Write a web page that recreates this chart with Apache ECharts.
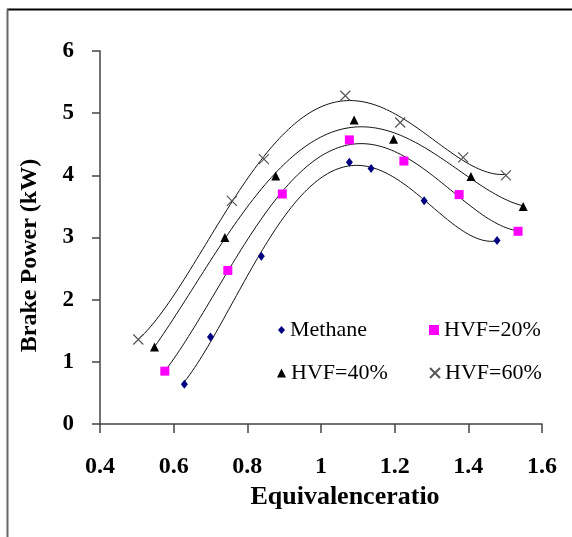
<!DOCTYPE html>
<html>
<head>
<meta charset="utf-8">
<script src="https://cdn.jsdelivr.net/npm/echarts@6/dist/echarts.min.js"></script>
<style>
html,body{margin:0;padding:0;background:#fff;}
#chart{width:572px;height:537px;}
</style>
</head>
<body>
<div id="chart"></div>
<script>
// Data
const seriesNames = ['Methane', 'HVF=20%', 'HVF=40%', 'HVF=60%'];
const phiMethane = [0.629, 0.700, 0.838, 1.077, 1.136, 1.280, 1.478];
const bpMethane  = [0.64, 1.40, 2.70, 4.21, 4.11, 3.59, 2.95];
const phiHVF20 = [0.576, 0.747, 0.895, 1.077, 1.225, 1.375, 1.535];
const bpHVF20  = [0.85, 2.47, 3.70, 4.57, 4.23, 3.69, 3.10];
const phiHVF40 = [0.548, 0.739, 0.877, 1.090, 1.197, 1.407, 1.549];
const bpHVF40  = [1.24, 3.00, 3.99, 4.89, 4.58, 3.98, 3.50];
const phiHVF60 = [0.504, 0.758, 0.845, 1.066, 1.215, 1.386, 1.502];
const bpHVF60  = [1.36, 3.59, 4.26, 5.28, 4.85, 4.29, 4.00];
const xTickLabels = ['0.4', '0.6', '0.8', '1', '1.2', '1.4', '1.6'];
const yTickLabels = ['0', '1', '2', '3', '4', '5', '6'];
const trendOrder = 4; // polynomial trendline order

// least-squares polynomial regression (trendline) of each series
function polyfit(xs, ys, deg) {
  const n = deg + 1;
  const A = [], b = [];
  for (let i = 0; i < n; i++) {
    A.push(new Array(n).fill(0));
    b.push(0);
  }
  for (let k = 0; k < xs.length; k++) {
    for (let i = 0; i < n; i++) {
      b[i] += ys[k] * Math.pow(xs[k], i);
      for (let j = 0; j < n; j++) A[i][j] += Math.pow(xs[k], i + j);
    }
  }
  for (let c = 0; c < n; c++) {
    let p = c;
    for (let r = c + 1; r < n; r++) if (Math.abs(A[r][c]) > Math.abs(A[p][c])) p = r;
    [A[c], A[p]] = [A[p], A[c]];
    [b[c], b[p]] = [b[p], b[c]];
    for (let r = c + 1; r < n; r++) {
      const f = A[r][c] / A[c][c];
      for (let j = c; j < n; j++) A[r][j] -= f * A[c][j];
      b[r] -= f * b[c];
    }
  }
  const coef = new Array(n).fill(0);
  for (let r = n - 1; r >= 0; r--) {
    let s = b[r];
    for (let j = r + 1; j < n; j++) s -= A[r][j] * coef[j];
    coef[r] = s / A[r][r];
  }
  return coef;
}
function trend(xs, ys) {
  const c = polyfit(xs, ys, trendOrder);
  const x0 = Math.min(...xs), x1 = Math.max(...xs);
  const pts = [];
  const N = 120;
  for (let i = 0; i <= N; i++) {
    const x = x0 + (x1 - x0) * i / N;
    let y = 0;
    for (let k = c.length - 1; k >= 0; k--) y = y * x + c[k];
    pts.push([x, y]);
  }
  return pts;
}
const zip = (a, b) => a.map((v, i) => [v, b[i]]);

const serif = '"Times New Roman", "Liberation Serif", serif';
const xPath = 'path://M0,0L10,10M10,0L0,10';

const groups = [
  { name: seriesNames[0], xs: phiMethane, ys: bpMethane, symbol: 'diamond', size: [7, 9], color: '#000080', border: 0 },
  { name: seriesNames[1], xs: phiHVF20, ys: bpHVF20, symbol: 'rect', size: 9, color: '#ff00ff', border: 0 },
  { name: seriesNames[2], xs: phiHVF40, ys: bpHVF40, symbol: 'triangle', size: 9, color: '#000000', border: 0 },
  { name: seriesNames[3], xs: phiHVF60, ys: bpHVF60, symbol: xPath, size: 10, color: '#555555', border: 1 }
];

const series = [];
groups.forEach(g => {
  series.push({
    type: 'line',
    data: trend(g.xs, g.ys),
    showSymbol: false,
    silent: true,
    lineStyle: { color: '#111', width: 1 },
    z: 2
  });
});
groups.forEach(g => {
  series.push({
    name: g.name,
    type: 'scatter',
    data: zip(g.xs, g.ys),
    symbol: g.symbol,
    symbolSize: g.size,
    itemStyle: g.border ? { color: g.color, borderColor: g.color, borderWidth: 1.2, opacity: 1 }
                        : { color: g.color, opacity: 1 },
    z: 3
  });
});

function legendFor(name, icon, left, top, w, h) {
  return {
    data: [{ name: name, icon: icon }],
    left: left, top: top,
    itemWidth: w, itemHeight: h,
    itemGap: 0,
    padding: 0,
    selectedMode: false,
    textStyle: { fontFamily: serif, fontSize: 22, color: '#000', padding: [0, 0, 0, 0] }
  };
}

const option = {
  animation: false,
  backgroundColor: '#fff',
  grid: { left: 100, right: 30, top: 51, bottom: 113 },
  xAxis: {
    type: 'value', min: 0.4, max: 1.6, interval: 0.2,
    name: 'Equivalenceratio', nameLocation: 'middle', nameGap: 60,
    nameTextStyle: { fontFamily: serif, fontWeight: 'bold', fontSize: 26, color: '#000', padding: [0, 0, 0, 48] },
    axisLine: { show: true, onZero: false, lineStyle: { color: '#444', width: 1.5 } },
    axisTick: { show: true, inside: false, length: 9, lineStyle: { color: '#444', width: 1.5 } },
    axisLabel: {
      margin: 31, fontFamily: serif, fontWeight: 'bold', fontSize: 24, color: '#000',
      formatter: (v, i) => xTickLabels[i]
    },
    splitLine: { show: false }
  },
  yAxis: {
    type: 'value', min: 0, max: 6, interval: 1,
    name: 'Brake Power (kW)', nameLocation: 'middle', nameGap: 58,
    nameTextStyle: { fontFamily: serif, fontWeight: 'bold', fontSize: 24, color: '#000', padding: [0, 36, 0, 0] },
    axisLine: { show: true, onZero: false, lineStyle: { color: '#444', width: 1.5 } },
    axisTick: { show: true, inside: false, length: 8, lineStyle: { color: '#444', width: 1.5 } },
    axisLabel: {
      margin: 26, fontFamily: serif, fontWeight: 'bold', fontSize: 23, color: '#000',
      formatter: (v, i) => yTickLabels[i]
    },
    splitLine: { show: false }
  },
  legend: [
    legendFor(seriesNames[0], 'diamond', 278, 319, 7, 8),
    legendFor(seriesNames[1], 'rect', 429, 319, 10, 10),
    legendFor(seriesNames[2], 'triangle', 277, 362, 9, 9),
    legendFor(seriesNames[3], xPath, 429, 362, 10, 10)
  ],
  graphic: [
    { type: 'line', shape: { x1: 7, y1: 9.5, x2: 572, y2: 9.5 }, style: { stroke: '#000', lineWidth: 2 }, silent: true },
    { type: 'line', shape: { x1: 7.5, y1: 9, x2: 7.5, y2: 537 }, style: { stroke: '#666', lineWidth: 2 }, silent: true }
  ],
  series: series
};

const chart = echarts.init(document.getElementById('chart'), null, { renderer: 'canvas' });
chart.setOption(option);
</script>
</body>
</html>
